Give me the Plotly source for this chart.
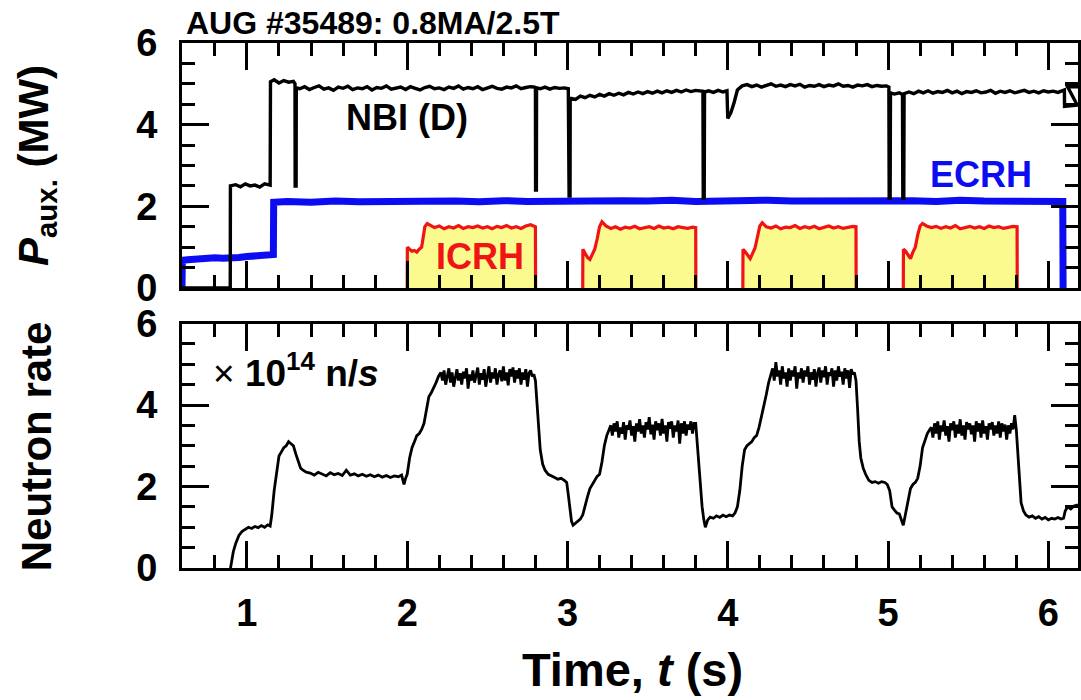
import plotly.graph_objects as go

# ---------------- data ----------------
nbi_t = [0.595, 0.896, 0.897, 0.930, 0.960, 0.990, 1.020, 1.050, 1.080, 1.110,
         1.145, 1.147, 1.170, 1.200, 1.230, 1.260, 1.290, 1.300, 1.301, 1.307, 1.308,
         1.33, 1.36, 1.39, 1.42, 1.45, 1.48, 1.51, 1.54, 1.57, 1.60,
         1.63, 1.66, 1.69, 1.72, 1.75, 1.78, 1.81, 1.84, 1.87, 1.90,
         1.93, 1.96, 1.99, 2.02, 2.05, 2.08, 2.11, 2.14, 2.17, 2.20,
         2.23, 2.26, 2.29, 2.32, 2.35, 2.38, 2.41, 2.44, 2.47, 2.50,
         2.53, 2.56, 2.59, 2.62, 2.65, 2.68, 2.71, 2.74, 2.77, 2.795,
         2.800, 2.801, 2.806, 2.807, 2.830, 2.860, 2.890, 2.920, 2.950, 2.980,
         3.005, 3.010, 3.016, 3.017,
         3.05, 3.08, 3.11, 3.14, 3.17, 3.20, 3.23, 3.26, 3.29, 3.32,
         3.35, 3.38, 3.41, 3.44, 3.47, 3.50, 3.53, 3.56, 3.59, 3.62,
         3.65, 3.68, 3.71, 3.74, 3.77, 3.80,
         3.845, 3.847, 3.853, 3.855, 3.880, 3.910, 3.940, 3.970, 3.995, 4.000,
         4.020, 4.040, 4.060,
         4.09, 4.12, 4.15, 4.18, 4.21, 4.24, 4.27, 4.30, 4.33, 4.36,
         4.39, 4.42, 4.45, 4.48, 4.51, 4.54, 4.57, 4.60, 4.63, 4.66,
         4.69, 4.72, 4.75, 4.78, 4.81, 4.84, 4.87, 4.90, 4.93, 4.96, 4.99,
         5.005, 5.007, 5.013, 5.015, 5.040, 5.070, 5.090, 5.092, 5.098, 5.100,
         5.13, 5.16, 5.19, 5.22, 5.25, 5.28, 5.31, 5.34, 5.37, 5.40,
         5.43, 5.46, 5.49, 5.52, 5.55, 5.58, 5.61, 5.64, 5.67, 5.70,
         5.73, 5.76, 5.79, 5.82, 5.85, 5.88, 5.91, 5.94, 5.97, 6.00,
         6.03, 6.06, 6.09,
         6.100, 6.101, 6.180, 6.120, 6.185]
nbi_p = [0.00, 0.00, 2.50, 2.53, 2.48, 2.55, 2.50, 2.52, 2.47, 2.55,
         2.52, 5.05, 5.10, 5.02, 5.08, 5.04, 5.06, 5.00, 2.50, 2.50, 4.90,
         4.88, 4.93, 4.86, 4.91, 4.95, 4.87, 4.90, 4.84, 4.92, 4.89,
         4.94, 4.86, 4.90, 4.88, 4.93, 4.85, 4.91, 4.89, 4.95, 4.87,
         4.90, 4.92, 4.86, 4.93, 4.89, 4.85, 4.91, 4.94, 4.88, 4.90,
         4.86, 4.92, 4.89, 4.95, 4.87, 4.91, 4.88, 4.93, 4.86, 4.90,
         4.94, 4.89, 4.87, 4.92, 4.90, 4.95, 4.88, 4.91, 4.93, 4.92,
         4.90, 2.40, 2.40, 4.90, 4.88, 4.92, 4.87, 4.91, 4.89, 4.90,
         4.88, 2.25, 2.25, 4.65,
         4.62, 4.70, 4.66, 4.72, 4.68, 4.74, 4.70, 4.76, 4.72, 4.77,
         4.73, 4.79, 4.75, 4.80, 4.76, 4.81, 4.77, 4.82, 4.78, 4.83,
         4.79, 4.84, 4.80, 4.85, 4.81, 4.84,
         4.82, 2.20, 2.20, 4.80, 4.83, 4.79, 4.84, 4.80, 4.83, 4.15,
         4.30, 4.55, 4.85,
         4.95, 4.98, 4.93, 4.97, 4.92, 4.96, 5.00, 4.94, 4.97, 4.93,
         4.98, 4.95, 4.99, 4.92, 4.96, 4.94, 4.98, 4.93, 4.97, 4.95,
         5.00, 4.94, 4.96, 4.92, 4.97, 4.95, 4.98, 4.93, 4.96, 4.94, 4.95,
         4.92, 2.20, 2.20, 4.78, 4.75, 4.78, 4.74, 2.20, 2.20, 4.76,
         4.80, 4.76, 4.82, 4.78, 4.83, 4.77, 4.81, 4.79, 4.84, 4.78,
         4.82, 4.76, 4.81, 4.79, 4.83, 4.78, 4.80, 4.84, 4.77, 4.82,
         4.79, 4.83, 4.78, 4.81, 4.84, 4.79, 4.82, 4.78, 4.83, 4.80,
         4.82, 4.79, 4.83,
         4.85, 4.45, 4.48, 4.93, 4.93]

ecrh_t = [0.595, 0.597, 0.650, 0.700, 0.750, 0.800, 0.850, 0.900, 0.950, 1.000,
          1.050, 1.100, 1.165, 1.167, 1.25, 1.40, 1.55, 1.70, 1.85, 2.00,
          2.15, 2.30, 2.45, 2.60, 2.75, 2.90, 3.05, 3.20, 3.35, 3.50,
          3.65, 3.80, 3.95, 4.10, 4.25, 4.40, 4.55, 4.70, 4.85, 5.00,
          5.15, 5.30, 5.45, 5.60, 5.75, 5.90, 6.05, 6.090, 6.092]
ecrh_p = [0.00, 0.68, 0.70, 0.72, 0.71, 0.74, 0.73, 0.76, 0.75, 0.77,
          0.78, 0.80, 0.82, 2.10, 2.12, 2.10, 2.13, 2.11, 2.12, 2.14,
          2.12, 2.13, 2.11, 2.14, 2.12, 2.13, 2.15, 2.12, 2.14, 2.13,
          2.15, 2.12, 2.14, 2.13, 2.15, 2.13, 2.14, 2.12, 2.15, 2.13,
          2.14, 2.12, 2.15, 2.13, 2.14, 2.12, 2.13, 2.12, 0.00]

icrh1_t = [2.000, 2.001, 2.015, 2.030, 2.045, 2.060, 2.075, 2.090, 2.100, 2.110, 2.125,
           2.14, 2.17, 2.20, 2.23, 2.26, 2.29, 2.32, 2.35, 2.38, 2.41,
           2.44, 2.47, 2.50, 2.53, 2.56, 2.59, 2.62, 2.65, 2.68, 2.71,
           2.74, 2.77, 2.800, 2.801]
icrh1_p = [0.00, 1.00, 0.95, 0.90, 0.92, 0.88, 0.95, 1.00, 1.25, 1.50, 1.58,
           1.55, 1.48, 1.52, 1.45, 1.50, 1.47, 1.53, 1.46, 1.50, 1.48,
           1.52, 1.47, 1.50, 1.45, 1.51, 1.48, 1.53, 1.47, 1.50, 1.46,
           1.52, 1.55, 1.50, 0.00]
icrh2_t = [3.095, 3.096, 3.110, 3.125, 3.140, 3.155, 3.170, 3.185, 3.200, 3.215,
           3.24, 3.27, 3.30, 3.33, 3.36, 3.39, 3.42, 3.45, 3.48, 3.51,
           3.54, 3.57, 3.60, 3.63, 3.66, 3.69, 3.72, 3.75, 3.78, 3.800, 3.801]
icrh2_p = [0.00, 0.95, 0.85, 0.75, 0.70, 0.85, 0.95, 1.20, 1.50, 1.62,
           1.52, 1.46, 1.50, 1.44, 1.49, 1.47, 1.51, 1.45, 1.48, 1.50,
           1.46, 1.52, 1.47, 1.49, 1.45, 1.50, 1.48, 1.46, 1.49, 1.48, 0.00]
icrh3_t = [4.094, 4.095, 4.110, 4.125, 4.140, 4.155, 4.170, 4.185, 4.200, 4.215,
           4.24, 4.27, 4.30, 4.33, 4.36, 4.39, 4.42, 4.45, 4.48, 4.51,
           4.54, 4.57, 4.60, 4.63, 4.66, 4.69, 4.72, 4.75, 4.78, 4.800, 4.801]
icrh3_p = [0.00, 0.95, 0.88, 0.80, 0.72, 0.85, 0.98, 1.25, 1.52, 1.60,
           1.50, 1.47, 1.52, 1.45, 1.49, 1.48, 1.53, 1.46, 1.50, 1.47,
           1.51, 1.45, 1.49, 1.52, 1.47, 1.50, 1.46, 1.49, 1.51, 1.50, 0.00]
icrh4_t = [5.095, 5.096, 5.110, 5.125, 5.140, 5.155, 5.170, 5.185, 5.200, 5.215,
           5.24, 5.27, 5.30, 5.33, 5.36, 5.39, 5.42, 5.45, 5.48, 5.51,
           5.54, 5.57, 5.60, 5.63, 5.66, 5.69, 5.72, 5.75, 5.78, 5.805, 5.806]
icrh4_p = [0.00, 0.95, 0.90, 0.80, 0.72, 0.88, 1.00, 1.30, 1.52, 1.58,
           1.52, 1.48, 1.51, 1.46, 1.50, 1.47, 1.53, 1.45, 1.49, 1.51,
           1.47, 1.50, 1.46, 1.52, 1.48, 1.50, 1.46, 1.49, 1.51, 1.50, 0.00]

neutron_t = [0.885, 0.900, 0.915, 0.930, 0.950, 0.970, 0.990, 1.010, 1.030, 1.050,
             1.070, 1.090, 1.110, 1.130, 1.145, 1.155, 1.170, 1.185, 1.200, 1.215,
             1.230, 1.245, 1.260, 1.275, 1.290, 1.305, 1.320, 1.335, 1.350, 1.370,
             1.395, 1.420, 1.445, 1.470, 1.495, 1.520, 1.545, 1.570, 1.595, 1.620,
             1.645, 1.670, 1.695, 1.720, 1.745, 1.770, 1.795, 1.820, 1.845, 1.870,
             1.895, 1.920, 1.945, 1.965, 1.980, 1.990, 2.000,
             2.015, 2.030, 2.045, 2.060, 2.075, 2.090, 2.105, 2.120, 2.135, 2.150,
             2.165, 2.180, 2.195, 2.210,
             2.22, 2.23, 2.24, 2.25, 2.26, 2.27, 2.28, 2.29, 2.30, 2.31,
             2.32, 2.33, 2.34, 2.35, 2.36, 2.37, 2.38, 2.39, 2.40, 2.41,
             2.42, 2.43, 2.44, 2.45, 2.46, 2.47, 2.48, 2.49, 2.50, 2.51,
             2.52, 2.53, 2.54, 2.55, 2.56, 2.57, 2.58, 2.59, 2.60, 2.61,
             2.62, 2.63, 2.64, 2.65, 2.66, 2.67, 2.68, 2.69, 2.70, 2.71,
             2.72, 2.73, 2.74, 2.75, 2.76, 2.77, 2.78, 2.79,
             2.800, 2.810, 2.820, 2.830, 2.845, 2.860, 2.880, 2.900, 2.920, 2.940,
             2.960, 2.980, 2.995,
             3.005, 3.015, 3.025, 3.035, 3.050, 3.065, 3.080, 3.095, 3.110, 3.125,
             3.140, 3.155, 3.170, 3.185, 3.200, 3.215, 3.230, 3.245, 3.260,
             3.27, 3.28, 3.29, 3.30, 3.31, 3.32, 3.33, 3.34, 3.35, 3.36,
             3.37, 3.38, 3.39, 3.40, 3.41, 3.42, 3.43, 3.44, 3.45, 3.46,
             3.47, 3.48, 3.49, 3.50, 3.51, 3.52, 3.53, 3.54, 3.55, 3.56,
             3.57, 3.58, 3.59, 3.60, 3.61, 3.62, 3.63, 3.64, 3.65, 3.66,
             3.67, 3.68, 3.69, 3.70, 3.71, 3.72, 3.73, 3.74, 3.75, 3.76,
             3.77, 3.78, 3.79,
             3.800, 3.810, 3.820, 3.830, 3.840, 3.850, 3.860, 3.875, 3.890, 3.910,
             3.930, 3.950, 3.970, 3.990, 4.010, 4.030, 4.045,
             4.060, 4.075, 4.090, 4.105, 4.120, 4.135, 4.150, 4.165, 4.180, 4.195,
             4.210, 4.225, 4.240, 4.255, 4.270,
             4.28, 4.29, 4.30, 4.31, 4.32, 4.33, 4.34, 4.35, 4.36, 4.37,
             4.38, 4.39, 4.40, 4.41, 4.42, 4.43, 4.44, 4.45, 4.46, 4.47,
             4.48, 4.49, 4.50, 4.51, 4.52, 4.53, 4.54, 4.55, 4.56, 4.57,
             4.58, 4.59, 4.60, 4.61, 4.62, 4.63, 4.64, 4.65, 4.66, 4.67,
             4.68, 4.69, 4.70, 4.71, 4.72, 4.73, 4.74, 4.75, 4.76, 4.77,
             4.78, 4.79,
             4.800, 4.810, 4.820, 4.830, 4.845, 4.860, 4.880, 4.900, 4.920, 4.940,
             4.960, 4.980, 4.995,
             5.010, 5.025, 5.040, 5.055, 5.070, 5.085, 5.095, 5.110, 5.125, 5.140,
             5.155, 5.170, 5.185, 5.200, 5.215, 5.230, 5.245, 5.260,
             5.27, 5.28, 5.29, 5.30, 5.31, 5.32, 5.33, 5.34, 5.35, 5.36,
             5.37, 5.38, 5.39, 5.40, 5.41, 5.42, 5.43, 5.44, 5.45, 5.46,
             5.47, 5.48, 5.49, 5.50, 5.51, 5.52, 5.53, 5.54, 5.55, 5.56,
             5.57, 5.58, 5.59, 5.60, 5.61, 5.62, 5.63, 5.64, 5.65, 5.66,
             5.67, 5.68, 5.69, 5.70, 5.71, 5.72, 5.73, 5.74, 5.75, 5.76,
             5.77, 5.78, 5.79,
             5.800, 5.810, 5.820, 5.830, 5.845, 5.860, 5.880, 5.900, 5.920, 5.940,
             5.960, 5.980, 6.000, 6.020, 6.040, 6.060, 6.080, 6.095, 6.105, 6.120,
             6.140, 6.160, 6.185]
neutron_n = [-0.30, 0.10, 0.40, 0.60, 0.80, 0.90, 0.95, 1.00, 0.97, 1.02,
             0.99, 1.04, 1.00, 1.06, 1.03, 1.30, 1.90, 2.40, 2.75, 2.85,
             2.95, 3.00, 3.10, 3.05, 3.00, 2.80, 2.60, 2.45, 2.40, 2.35,
             2.33, 2.28, 2.35, 2.30, 2.26, 2.34, 2.29, 2.32, 2.27, 2.40,
             2.28, 2.31, 2.26, 2.30, 2.25, 2.29, 2.24, 2.28, 2.23, 2.27,
             2.22, 2.26, 2.24, 2.28, 2.05, 2.20, 2.30,
             2.70, 2.95, 3.10, 3.25, 3.30, 3.40, 3.55, 3.90, 4.20, 4.30,
             4.45, 4.55, 4.70, 4.80,
             4.60, 4.85, 4.50, 4.75, 4.90, 4.55, 4.80, 4.45, 4.70, 4.88,
             4.60, 4.78, 4.50, 4.82, 4.65, 4.90, 4.40, 4.75, 4.60, 4.85,
             4.55, 4.70, 4.92, 4.50, 4.78, 4.62, 4.88, 4.45, 4.72, 4.95,
             4.55, 4.80, 4.65, 4.90, 4.50, 4.75, 4.85, 4.58, 4.95, 4.60,
             4.80, 4.48, 4.88, 4.70, 4.92, 4.55, 4.85, 4.65, 4.90, 4.50,
             4.80, 4.62, 4.88, 4.45, 4.78, 4.85, 4.70, 4.75,
             4.60, 4.10, 3.40, 2.90, 2.55, 2.40, 2.30, 2.25, 2.22, 2.18,
             2.20, 2.15, 2.10,
             1.80, 1.40, 1.15, 1.05, 1.10, 1.15, 1.20, 1.30, 1.55, 1.75,
             1.95, 2.05, 2.15, 2.25, 2.30, 2.60, 3.00, 3.25, 3.40,
             3.50, 3.25, 3.55, 3.35, 3.60, 3.20, 3.45, 3.30, 3.58, 3.15,
             3.50, 3.40, 3.62, 3.25, 3.48, 3.10, 3.55, 3.35, 3.65, 3.30,
             3.50, 3.20, 3.58, 3.40, 3.70, 3.28, 3.52, 3.15, 3.60, 3.38,
             3.55, 3.25, 3.66, 3.30, 3.50, 3.10, 3.58, 3.42, 3.60, 3.20,
             3.50, 3.35, 3.62, 3.05, 3.55, 3.30, 3.60, 3.25, 3.52, 3.40,
             3.60, 3.30, 3.55,
             3.55, 3.00, 2.40, 1.90, 1.50, 1.20, 1.00, 1.18, 1.25, 1.22,
             1.28, 1.24, 1.30, 1.26, 1.30, 1.28, 1.35,
             1.50, 1.90, 2.50, 2.90, 3.00, 3.05, 3.10, 3.20, 3.25, 3.45,
             3.70, 3.95, 4.25, 4.55, 4.75,
             4.90, 4.60, 5.05, 4.70, 4.85, 4.50, 4.95, 4.65, 4.80, 4.45,
             4.90, 4.60, 4.85, 4.70, 4.95, 4.40, 4.80, 4.65, 4.90, 4.55,
             4.85, 4.70, 4.95, 4.50, 4.80, 4.62, 4.88, 4.45, 4.78, 4.92,
             4.55, 4.85, 4.68, 4.95, 4.50, 4.80, 4.72, 4.90, 4.45, 4.85,
             4.60, 4.95, 4.70, 4.82, 4.50, 4.90, 4.65, 4.85, 4.42, 4.88,
             4.75, 4.80,
             4.60, 3.90, 3.10, 2.70, 2.45, 2.30, 2.15, 2.10, 2.12, 2.08,
             2.12, 2.10, 2.05,
             1.90, 1.50, 1.42, 1.35, 1.33, 1.15, 1.05, 1.35, 1.70, 1.95,
             2.05, 2.10, 2.20, 2.50, 2.95, 3.15, 3.30, 3.40,
             3.45, 3.20, 3.55, 3.30, 3.60, 3.15, 3.50, 3.35, 3.62, 3.25,
             3.48, 3.10, 3.55, 3.38, 3.60, 3.20, 3.52, 3.30, 3.65, 3.25,
             3.50, 3.15, 3.58, 3.40, 3.55, 3.28, 3.50, 3.10, 3.60, 3.35,
             3.55, 3.20, 3.62, 3.30, 3.48, 3.15, 3.55, 3.40, 3.58, 3.25,
             3.50, 3.30, 3.60, 3.20, 3.55, 3.35, 3.52, 3.15, 3.50, 3.30,
             3.55, 3.40, 3.75,
             3.40, 2.80, 2.10, 1.60, 1.40, 1.30, 1.25, 1.28, 1.22, 1.26,
             1.20, 1.24, 1.18, 1.22, 1.20, 1.24, 1.20, 1.22, 1.40, 1.50,
             1.45, 1.52, 1.55]

x_range = [0.595, 6.185]
y_range = [0, 6]

FONT = "Liberation Sans, Arial, Helvetica, sans-serif"
BLUE = "#0c0cf2"
RED = "#f01414"
YELLOW = "#fbfa8e"

fig = go.Figure()

# ICRH pulses (filled)
for tt, pp in [(icrh1_t, icrh1_p), (icrh2_t, icrh2_p), (icrh3_t, icrh3_p), (icrh4_t, icrh4_p)]:
    fig.add_trace(go.Scatter(x=tt, y=pp, mode="lines", fill="tozeroy", fillcolor=YELLOW,
                             line=dict(color=RED, width=3.2), xaxis="x", yaxis="y",
                             showlegend=False, hoverinfo="skip"))
# ECRH
fig.add_trace(go.Scatter(x=ecrh_t, y=ecrh_p, mode="lines", line=dict(color=BLUE, width=7),
                         xaxis="x", yaxis="y", showlegend=False))
# NBI
fig.add_trace(go.Scatter(x=nbi_t, y=nbi_p, mode="lines", line=dict(color="black", width=3.4),
                         xaxis="x", yaxis="y", showlegend=False))
# Neutron rate
fig.add_trace(go.Scatter(x=neutron_t, y=neutron_n, mode="lines", line=dict(color="black", width=2.8),
                         xaxis="x2", yaxis="y2", showlegend=False))

tickfont = dict(family=FONT, size=38, color="black", weight="bold")

def xax(show_labels):
    return dict(range=x_range, domain=[0, 1], showgrid=False, zeroline=False,
                showline=True, linewidth=3, linecolor="black", mirror="ticks",
                ticks="inside", ticklen=27, tickwidth=3, tickcolor="black",
                tick0=0, dtick=1, showticklabels=show_labels, tickfont=tickfont,
                ticklabelstandoff=9,
                minor=dict(ticks="inside", ticklen=13, tickwidth=3, tickcolor="black",
                           dtick=0.2, tick0=0, showgrid=False))

def yax(domain):
    return dict(range=y_range, domain=domain, showgrid=False, zeroline=False,
                showline=True, linewidth=3, linecolor="black", mirror="ticks",
                ticks="inside", ticklen=27, tickwidth=3, tickcolor="black",
                tick0=0, dtick=2, tickfont=tickfont, ticklabelstandoff=14,
                minor=dict(ticks="inside", ticklen=13, tickwidth=3, tickcolor="black",
                           dtick=0.5, tick0=0, showgrid=False))

top_dom = [0.5333, 1.0]
bot_dom = [0.0, 0.4657]

fig.update_layout(
    width=1081, height=700,
    margin=dict(l=182, r=0, t=43, b=132),
    paper_bgcolor="white", plot_bgcolor="white",
    xaxis=dict(xax(False), anchor="y"),
    yaxis=dict(yax(top_dom), anchor="x"),
    xaxis2=dict(xax(True), anchor="y2", matches="x"),
    yaxis2=dict(yax(bot_dom), anchor="x2"),
    showlegend=False,
)

ann = []
ann.append(dict(text="<b>AUG #35489: 0.8MA/2.5T</b>", xref="paper", yref="paper",
                x=0.002, y=1.0, xanchor="left", yanchor="bottom", showarrow=False,
                font=dict(family=FONT, size=32, color="black")))
ann.append(dict(text="<b>NBI (D)</b>", xref="x", yref="y", x=1.997, y=4.18,
                xanchor="center", yanchor="middle", showarrow=False,
                font=dict(family=FONT, size=36, color="black")))
ann.append(dict(text="<b>ECRH</b>", xref="x", yref="y", x=5.579, y=2.79,
                xanchor="center", yanchor="middle", showarrow=False,
                font=dict(family=FONT, size=36, color=BLUE)))
ann.append(dict(text="<b>ICRH</b>", xref="x", yref="y", x=2.454, y=0.78,
                xanchor="center", yanchor="middle", showarrow=False,
                font=dict(family=FONT, size=36, color=RED)))
ann.append(dict(text="× <b>10<sup>14</sup> n/<i>s</i></b>", xref="x2", yref="y2",
                x=0.775, y=4.22, xanchor="left", yanchor="bottom", showarrow=False,
                font=dict(family=FONT, size=37, color="black")))
ann.append(dict(text="<b><i>P</i><sub>aux.</sub> (MW)</b>", xref="paper", yref="paper",
                x=-0.1624, y=(top_dom[0] + top_dom[1]) / 2, xanchor="center", yanchor="middle",
                textangle=-90, showarrow=False, font=dict(family=FONT, size=42, color="black")))
ann.append(dict(text="<b>Neutron rate</b>", xref="paper", yref="paper",
                x=-0.1624, y=(bot_dom[0] + bot_dom[1]) / 2, xanchor="center", yanchor="middle",
                textangle=-90, showarrow=False, font=dict(family=FONT, size=42, color="black")))
ann.append(dict(text="<b>Time, <i>t</i> (s)</b>", xref="paper", yref="paper",
                x=0.5033, y=-0.1924, xanchor="center", yanchor="middle", showarrow=False,
                font=dict(family=FONT, size=47, color="black")))
fig.update_layout(annotations=ann)

fig.write_html("out.html", config={"displayModeBar": False},
               post_script="document.body.style.margin='0';")
